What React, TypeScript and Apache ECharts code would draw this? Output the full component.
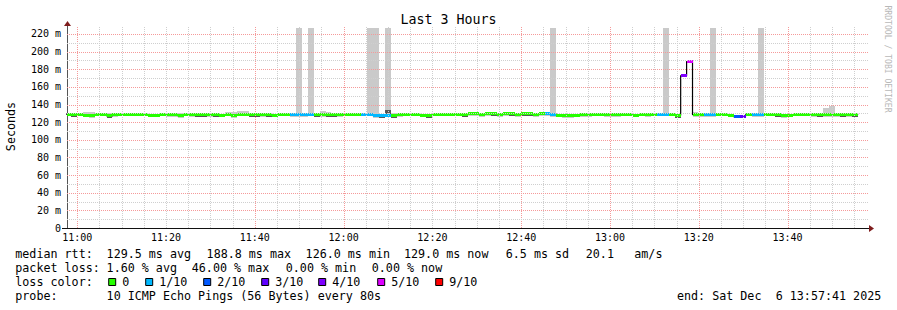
import React, { useEffect, useRef } from "react";
import * as echarts from "echarts";

const chartTitle = "Last 3 Hours";
const yAxisName = "Seconds";
const watermark = "RRDTOOL / TOBI OETIKER";
const startTime = "10:57:41";
const endTime = "13:57:41";
const firstStepStart = "10:57:16";
const stepSeconds = 80;
const yMaxMs = 226.8;

const xLabelTimes = ["11:00", "11:20", "11:40", "12:00", "12:20", "12:40", "13:00", "13:20", "13:40"];
const majorGridTimes = ["11:00", "11:40", "12:00", "12:40", "13:00", "13:20", "13:40"];

const medianMs = [
  129.2, 129.0, 129.1, 127.8, 127.5, 129.0, 129.0, 127.2, 128.3, 129.1,
  129.0, 129.2, 129.0, 129.1, 128.0, 128.1, 129.0, 129.1, 129.1, 127.5,
  129.0, 129.1, 129.0, 129.0, 129.1, 129.0, 127.6, 128.8, 127.5, 129.0,
  129.1, 129.0, 129.0, 129.1, 129.0, 127.6, 129.0, 129.1, 128.5, 128.4,
  128.5, 128.8, 129.0, 129.1, 129.0, 129.0, 129.1, 129.0, 129.1, 129.0,
  128.8, 128.7, 127.5, 127.4, 128.0, 127.3, 128.2, 129.0, 129.1, 129.0,
  128.0, 127.2, 129.0, 129.1, 129.0, 129.1, 129.0, 129.0, 129.3, 129.3,
  129.2, 129.3, 129.3, 129.2, 129.3, 129.3, 129.2, 129.3, 129.3, 129.2,
  129.3, 129.3, 129.2, 127.8, 127.8, 127.9, 127.8, 129.2, 129.2, 129.1,
  129.2, 129.2, 128.3, 128.2, 129.0, 129.1, 128.0, 129.0, 129.1, 129.0,
  128.8, 128.7, 128.8, 127.8, 172.7, 188.8, 128.5, 128.6, 128.5, 128.4,
  128.8, 128.9, 127.8, 126.0, 127.0, 128.8, 128.5, 128.5, 129.0, 129.1,
  129.0, 127.8, 127.7, 129.0, 129.1, 129.0, 129.1, 129.0, 129.1, 129.0,
  129.1, 129.0, 129.1, 129.0,
];

const lossTenths = [
  0, 0, 0, 0, 0, 0, 0, 0, 0, 0,
  0, 0, 0, 0, 0, 0, 0, 0, 0, 0,
  0, 0, 0, 0, 0, 0, 0, 0, 0, 0,
  0, 0, 0, 0, 0, 0, 0, 0, 1, 1,
  1, 1, 0, 0, 0, 0, 0, 0, 0, 0,
  1, 1, 1, 1, 1, 0, 0, 0, 0, 0,
  0, 0, 0, 0, 0, 0, 0, 0, 0, 0,
  0, 0, 0, 0, 0, 0, 0, 0, 0, 0,
  0, 1, 1, 0, 0, 0, 0, 0, 0, 0,
  0, 0, 0, 0, 0, 0, 0, 0, 0, 0,
  1, 1, 0, 0, 4, 5, 0, 0, 1, 1,
  0, 0, 0, 2, 3, 0, 1, 1, 0, 0,
  0, 0, 0, 0, 0, 0, 0, 0, 0, 0,
  0, 0, 0, 0,
];

const smokeLowMs = [
  127.0, 126.2, 126.9, 125.6, 125.3, 126.8, 126.8, 125.0, 126.1, 126.9,
  126.8, 127.0, 126.8, 126.9, 125.4, 125.5, 126.8, 126.3, 126.3, 125.3,
  126.8, 126.3, 126.2, 126.2, 126.3, 126.2, 125.4, 126.6, 125.3, 126.8,
  126.9, 126.2, 126.2, 126.3, 126.2, 125.4, 126.8, 126.9, 126.3, 126.2,
  126.3, 126.6, 126.2, 126.3, 126.2, 126.2, 126.3, 126.8, 126.9, 126.8,
  126.6, 126.5, 125.3, 124.6, 125.8, 124.5, 125.4, 126.8, 126.9, 126.8,
  125.8, 124.4, 126.8, 126.9, 126.8, 126.9, 126.8, 126.2, 126.5, 126.5,
  126.4, 126.5, 126.5, 126.4, 126.5, 126.5, 126.4, 126.5, 126.5, 126.4,
  126.5, 126.5, 126.4, 125.6, 125.0, 125.1, 125.6, 126.4, 126.4, 126.9,
  127.0, 126.4, 126.1, 126.0, 126.8, 126.9, 125.8, 126.8, 126.3, 126.8,
  126.6, 126.5, 126.6, 125.0, 172.7, 188.8, 126.3, 126.4, 126.3, 126.2,
  126.6, 126.7, 125.6, 124.8, 124.6, 126.6, 126.3, 126.3, 126.8, 126.9,
  126.8, 125.0, 125.5, 126.8, 126.9, 126.8, 126.3, 126.2, 126.3, 126.2,
  126.3, 126.2, 126.3, 126.2,
];

const smokeHighMs = [
  130.8, 130.6, 130.7, 131.0, 131.0, 130.6, 130.6, 130.2, 129.9, 130.7,
  130.6, 130.8, 130.6, 130.7, 129.6, 129.7, 130.6, 130.7, 130.7, 130.4,
  130.6, 130.7, 130.6, 130.6, 130.7, 130.6, 129.2, 131.0, 131.6, 132.8,
  132.8, 130.6, 130.6, 130.7, 130.6, 129.2, 130.6, 130.7, 130.1, 260.0,
  130.1, 260.0, 130.6, 132.4, 131.2, 130.6, 130.7, 130.6, 130.7, 130.6,
  130.4, 260.0, 260.0, 129.0, 260.0, 130.9, 129.8, 130.6, 130.7, 130.6,
  129.6, 128.8, 130.6, 130.7, 130.6, 130.7, 130.6, 130.6, 130.9, 130.9,
  130.8, 130.9, 130.9, 130.8, 130.9, 130.9, 130.8, 130.9, 130.9, 130.8,
  130.9, 130.9, 260.0, 129.4, 129.4, 129.5, 129.4, 130.8, 130.8, 130.7,
  130.8, 130.8, 129.9, 129.8, 130.6, 130.7, 129.6, 130.6, 130.7, 130.6,
  130.4, 260.0, 130.4, 129.4, 172.7, 188.8, 131.6, 130.2, 130.1, 260.0,
  130.4, 130.5, 129.4, 127.6, 128.6, 130.4, 130.1, 260.0, 130.6, 130.7,
  130.6, 129.4, 129.3, 130.6, 130.7, 130.6, 130.7, 130.6, 136.3, 138.4,
  130.7, 130.6, 130.7, 130.6,
];

const coreLowMs = [
  128.0, 126.4, 127.9, 126.6, 126.3, 127.8, 127.8, 124.6, 127.1, 127.9,
  127.8, 128.0, 127.8, 127.9, 126.8, 126.9, 127.8, 126.5, 126.5, 126.3,
  127.8, 126.5, 126.4, 126.4, 126.5, 126.4, 126.4, 127.6, 126.3, 127.8,
  127.9, 126.4, 126.4, 126.5, 126.4, 126.4, 127.8, 127.9, 127.3, 127.2,
  127.3, 127.6, 126.4, 126.5, 126.4, 126.4, 126.5, 127.8, 127.9, 127.8,
  127.6, 127.5, 126.3, 124.8, 126.8, 124.7, 127.0, 127.8, 127.9, 127.8,
  126.8, 124.6, 127.8, 127.9, 127.8, 127.9, 127.8, 126.4, 128.1, 128.1,
  128.0, 128.1, 126.7, 128.0, 128.1, 126.7, 128.0, 126.7, 126.7, 126.6,
  128.1, 128.1, 128.0, 126.6, 126.6, 126.7, 126.6, 128.0, 128.0, 127.9,
  128.0, 128.0, 127.1, 127.0, 127.8, 127.9, 126.8, 127.8, 127.9, 127.8,
  127.6, 127.5, 127.6, 125.2, 172.7, 188.8, 127.3, 127.4, 127.3, 127.2,
  127.6, 127.7, 126.6, 124.8, 125.8, 127.6, 127.3, 127.3, 127.8, 126.5,
  126.4, 126.6, 126.5, 127.8, 127.9, 127.8, 127.9, 126.4, 127.9, 127.8,
  126.5, 126.4, 126.5, 126.4,
];

const coreHighMs = [
  130.0, 129.8, 129.9, 128.6, 128.3, 129.8, 129.8, 128.0, 129.1, 129.9,
  129.8, 130.0, 129.8, 129.9, 128.8, 128.9, 129.8, 129.9, 129.9, 128.3,
  129.8, 129.9, 129.8, 129.8, 129.9, 129.8, 128.4, 129.6, 128.3, 129.8,
  129.9, 129.8, 129.8, 129.9, 129.8, 128.4, 129.8, 129.9, 129.3, 129.2,
  129.3, 129.6, 129.8, 129.9, 129.8, 129.8, 129.9, 129.8, 129.9, 129.8,
  129.6, 129.5, 128.3, 128.2, 133.8, 129.6, 129.0, 129.8, 129.9, 129.8,
  128.8, 128.0, 129.8, 129.9, 129.8, 129.9, 129.8, 129.8, 130.1, 130.1,
  130.0, 130.1, 130.1, 130.0, 130.1, 130.1, 130.0, 130.1, 130.1, 130.0,
  130.1, 130.1, 130.0, 128.6, 128.6, 128.7, 128.6, 130.0, 130.0, 129.9,
  130.0, 130.0, 129.1, 129.0, 129.8, 129.9, 128.8, 129.8, 129.9, 129.8,
  129.6, 129.5, 129.6, 128.6, 172.7, 188.8, 129.3, 129.4, 129.3, 129.2,
  129.6, 129.7, 128.6, 126.8, 127.8, 129.6, 129.3, 129.3, 129.8, 129.9,
  129.8, 128.6, 128.5, 129.8, 129.9, 129.8, 129.9, 129.8, 129.9, 129.8,
  129.9, 129.8, 129.9, 129.8,
];

const lossLevels = [0, 1, 2, 3, 4, 5, 9];
const lossLabels = ["0", "1/10", "2/10", "3/10", "4/10", "5/10", "9/10"];
const lossColors = ["#26ff00", "#00b8ff", "#0059ff", "#5e00ff", "#7e00ff", "#dd00ff", "#ff0000"];

const rttLabel = "median rtt:";
const rttStats = ["129.5 ms avg", "188.8 ms max", "126.0 ms min", "129.0 ms now", "6.5 ms sd", "20.1", "am/s"];
const lossLabel = "packet loss:";
const lossStats = ["1.60 % avg", "46.00 % max", "0.00 % min", "0.00 % now"];
const lossColorLabel = "loss color:";
const probeLabel = "probe:";
const probeText = "10 ICMP Echo Pings (56 Bytes) every 80s";
const endLabel = ["end: Sat Dec", "6 13:57:41 2025"];

const MONO = "'DejaVu Sans Mono', monospace";

function toSec(s: string): number {
  const p = s.split(":").map(Number);
  return p[0] * 3600 + p[1] * 60 + (p[2] || 0);
}

function lossColor(l: number): string {
  let idx = 0;
  for (let k = 0; k < lossLevels.length; k++) if (l >= lossLevels[k]) idx = k;
  return lossColors[idx];
}

export default function App() {
  const ref = useRef<HTMLDivElement>(null);

  useEffect(() => {
    if (!ref.current) return;
    const chart = echarts.init(ref.current, undefined, { renderer: "svg" });

    const xMin = toSec(startTime);
    const xMax = toSec(endTime);
    const t0 = toSec(firstStepStart);
    const stepStart = (i: number) => t0 + i * stepSeconds;

    const outerData = medianMs.map((_, i) => [stepStart(i), stepStart(i + 1), smokeLowMs[i], smokeHighMs[i]]);
    const coreData = medianMs.map((_, i) => [stepStart(i), stepStart(i + 1), coreLowMs[i], coreHighMs[i]]);
    const medData = medianMs.map((m, i) => [stepStart(i), stepStart(i + 1), m, lossTenths[i]]);
    const stepLine: number[][] = medianMs.map((m, i) => [stepStart(i), m]);
    stepLine.push([stepStart(medianMs.length), medianMs[medianMs.length - 1]]);

    const majorSet = new Set(majorGridTimes.map(toSec));
    const vTicks: number[][] = [];
    for (let t = toSec("11:00"); t <= xMax; t += 300) vTicks.push([t, majorSet.has(t) ? 1 : 0]);
    const hTicks: number[][] = [];
    for (let v = 10; v <= 220; v += 10) hTicks.push([xMin, v, v % 20 === 0 ? 1 : 0]);
    const xLabelData = xLabelTimes.map((s, i) => [toSec(s), i]);

    const majorColor = "#f59a9a";
    const minorColor = "#cfcfcf";

    const band = (color: string) => (params: any, api: any) => {
      const a = api.coord([api.value(0), api.value(3)]);
      const b = api.coord([api.value(1), api.value(2)]);
      const cs = params.coordSys;
      const x0 = Math.round(a[0]);
      const x1 = Math.round(b[0]);
      const y0 = Math.round(a[1]);
      const y1 = Math.round(b[1]);
      const shape = echarts.graphic.clipRectByRect(
        { x: x0, y: y0, width: x1 - x0, height: y1 - y0 },
        { x: cs.x, y: cs.y, width: cs.width, height: cs.height }
      );
      if (!shape || shape.height <= 0 || shape.width <= 0) return null;
      return { type: "rect", shape, style: { fill: color } };
    };

    const option: any = {
      animation: false,
      backgroundColor: "#ffffff",
      grid: { left: 67, top: 28, width: 799, height: 200, containLabel: false },
      xAxis: {
        type: "value",
        min: xMin,
        max: xMax,
        axisLine: { show: true, lineStyle: { color: "#111111", width: 1 } },
        axisTick: { show: false },
        axisLabel: { show: false },
        splitLine: { show: false },
      },
      yAxis: {
        type: "value",
        min: 0,
        max: yMaxMs,
        interval: 20,
        axisLine: { show: true, lineStyle: { color: "#555555", width: 1 } },
        axisTick: { show: false },
        axisLabel: {
          showMaxLabel: false,
          formatter: (v: number) => (v === 0 ? "0" : `${v} m`),
          fontFamily: MONO,
          fontSize: 10,
          color: "#000000",
          margin: 6,
        },
        splitLine: { show: false },
      },
      series: [
        {
          type: "custom",
          name: "smoke",
          z: 2,
          encode: { x: [0, 1], y: [2, 3] },
          data: outerData,
          renderItem: band("#cacaca"),
          silent: true,
        },
        {
          type: "custom",
          name: "smoke core",
          z: 3,
          encode: { x: [0, 1], y: [2, 3] },
          data: coreData,
          renderItem: band("#565656"),
          silent: true,
        },
        {
          type: "line",
          name: "median step",
          z: 4,
          step: "end",
          data: stepLine,
          showSymbol: false,
          symbol: "none",
          clip: true,
          lineStyle: { color: "#000000", width: 1.2 },
          silent: true,
        },
        {
          type: "custom",
          name: "median",
          z: 5,
          encode: { x: [0, 1], y: 2 },
          data: medData,
          silent: true,
          renderItem: (params: any, api: any) => {
            const a = api.coord([api.value(0), api.value(2)]);
            const b = api.coord([api.value(1), api.value(2)]);
            const cs = params.coordSys;
            const x0 = Math.max(Math.round(a[0]), cs.x);
            const x1 = Math.round(b[0]);
            const top = Math.round(a[1] - 1.5);
            return {
              type: "rect",
              shape: { x: x0, y: top, width: x1 - x0, height: 3 },
              style: { fill: lossColor(api.value(3)) },
            };
          },
        },
        {
          type: "custom",
          name: "vgrid",
          z: 6,
          encode: { x: 0 },
          data: vTicks,
          silent: true,
          renderItem: (params: any, api: any) => {
            const cs = params.coordSys;
            const x = Math.round(api.coord([api.value(0), 0])[0]) + 0.5;
            const major = api.value(1) === 1;
            return {
              type: "line",
              shape: { x1: x, y1: cs.y - 1, x2: x, y2: cs.y + cs.height },
              style: { stroke: major ? majorColor : minorColor, lineWidth: 1, lineDash: [1, 1] },
            };
          },
        },
        {
          type: "custom",
          name: "hgrid",
          z: 6,
          encode: { x: 0, y: 1 },
          data: hTicks,
          silent: true,
          renderItem: (params: any, api: any) => {
            const cs = params.coordSys;
            const y = Math.round(api.coord([api.value(0), api.value(1)])[1]) + 0.5;
            const major = api.value(2) === 1;
            return {
              type: "line",
              shape: { x1: cs.x, y1: y, x2: cs.x + cs.width + 3, y2: y },
              style: { stroke: major ? majorColor : minorColor, lineWidth: 1, lineDash: [1, 1] },
            };
          },
        },
        {
          type: "custom",
          name: "xlabels",
          z: 7,
          encode: { x: 0 },
          data: xLabelData,
          silent: true,
          renderItem: (params: any, api: any) => {
            const cs = params.coordSys;
            const x = api.coord([api.value(0), 0])[0];
            return {
              type: "text",
              x: x,
              y: cs.y + cs.height + 9.5,
              style: {
                text: xLabelTimes[api.value(1)],
                fill: "#000000",
                fontFamily: MONO,
                fontSize: 10,
                align: "center",
                verticalAlign: "middle",
                textAlign: "center",
                textVerticalAlign: "middle",
              },
            };
          },
        },
      ],
      graphic: [] as any[],
    };

    const g: any[] = option.graphic;
    const txt = (text: string, x: number, y: number, size: number, extra: any = {}) => ({
      type: "text",
      x,
      y,
      silent: true,
      ...extra,
      style: {
        text,
        fill: extra.fill || "#000000",
        fontFamily: MONO,
        fontSize: size,
        align: extra.align || "left",
        textAlign: extra.align || "left",
        verticalAlign: "middle",
        textVerticalAlign: "middle",
      },
    });

    g.push(txt(chartTitle, 448.5, 19.5, 13.3, { align: "center" }));
    g.push(txt(yAxisName, 11, 126.5, 11.7, { align: "center", rotation: Math.PI / 2 }));
    g.push(txt(watermark, 887.5, 59, 8.1, { align: "center", rotation: -Math.PI / 2, fill: "#b8b8b8" }));

    // axis arrows and extensions
    g.push({ type: "line", silent: true, shape: { x1: 67.5, y1: 25, x2: 67.5, y2: 28 }, style: { stroke: "#555555", lineWidth: 1 } });
    g.push({ type: "line", silent: true, shape: { x1: 62, y1: 228.5, x2: 67, y2: 228.5 }, style: { stroke: "#111111", lineWidth: 1 } });
    g.push({ type: "line", silent: true, shape: { x1: 866, y1: 228.5, x2: 870, y2: 228.5 }, style: { stroke: "#111111", lineWidth: 1 } });
    g.push({ type: "polygon", silent: true, shape: { points: [[64, 26], [71, 26], [67.5, 21]] }, style: { fill: "#7f1d1d" } });
    g.push({ type: "polygon", silent: true, shape: { points: [[869, 225], [869, 232], [874, 228.5]] }, style: { fill: "#7f1d1d" } });

    const fs = 11.7;
    const rows = [253.7, 268.2, 281.8, 296.0];
    g.push(txt(rttLabel, 15.3, rows[0], fs));
    const rttX = [106.6, 206.6, 305.6, 404.0, 505.8, 585.8, 634.3];
    rttStats.forEach((s, i) => g.push(txt(s, rttX[i], rows[0], fs)));
    g.push(txt(lossLabel, 15.3, rows[1], fs));
    const lossX = [106.6, 191.8, 285.8, 371.8];
    lossStats.forEach((s, i) => g.push(txt(s, lossX[i], rows[1], fs)));
    g.push(txt(lossColorLabel, 15.3, rows[2], fs));
    const legendTextX = [122.2, 159.2, 217.2, 275.2, 332.2, 391.2, 449.2];
    lossLabels.forEach((s, i) => {
      g.push({
        type: "rect",
        silent: true,
        shape: { x: legendTextX[i] - 13.5, y: 278.5, width: 7, height: 7 },
        style: { fill: lossColors[i], stroke: "#000000", lineWidth: 1 },
      });
      g.push(txt(s, legendTextX[i], rows[2], fs));
    });
    g.push(txt(probeLabel, 15.3, rows[3], fs));
    g.push(txt(probeText, 106.6, rows[3], fs));
    g.push(txt(endLabel[0], 677.0, rows[3], fs));
    g.push(txt(endLabel[1], 677.0 + 14 * 7.05, rows[3], fs));

    chart.setOption(option);
    return () => chart.dispose();
  }, []);

  return (
    <div
      ref={ref}
      style={{ position: "fixed", left: 0, top: 0, width: 897, height: 310, background: "#ffffff" }}
    />
  );
}
